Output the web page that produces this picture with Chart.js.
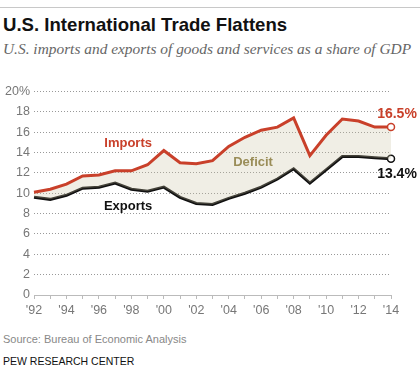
<!DOCTYPE html>
<html>
<head>
<meta charset="utf-8">
<script src="https://cdn.jsdelivr.net/npm/chart.js@4/dist/chart.umd.min.js"></script>
<style>
  body { margin: 0; background: #fff; width: 420px; height: 380px; position: relative; overflow: hidden; }
  .rule { position: absolute; left: 0; top: 7px; width: 420px; height: 1px; background: #c8c8c8; }
  .title { position: absolute; left: 3px; top: 14px; font: bold 18.6px "Liberation Sans Narrow", "Liberation Sans", sans-serif; color: #111; white-space: nowrap; }
  .sub { position: absolute; left: 3px; top: 40px; font: italic 15.4px "Liberation Serif", serif; color: #666; white-space: nowrap; }
  .source { position: absolute; left: 3px; top: 333px; font: 11px "Liberation Sans", sans-serif; color: #888; white-space: nowrap; }
  .pew { position: absolute; left: 3px; top: 355px; font: 10.5px "Liberation Sans", sans-serif; color: #111; white-space: nowrap; }
  #wrap { position: absolute; left: 0; top: 80px; width: 420px; height: 240px; }
</style>
</head>
<body>
<div class="rule"></div>
<div class="title">U.S. International Trade Flattens</div>
<div class="sub">U.S. imports and exports of goods and services as a share of GDP</div>
<div id="wrap"><canvas id="myChart"></canvas></div>
<div class="source">Source: Bureau of Economic Analysis</div>
<div class="pew">PEW RESEARCH CENTER</div>
<script>
const years = ["'92","'93","'94","'95","'96","'97","'98","'99","'00","'01","'02","'03",
  "'04","'05","'06","'07","'08","'09","'10","'11","'12","'13","'14"];
const imports = [10.1, 10.4, 10.9, 11.7, 11.8, 12.2, 12.2, 12.8, 14.2, 13.0, 12.9, 13.2,
  14.6, 15.5, 16.2, 16.5, 17.4, 13.7, 15.7, 17.3, 17.1, 16.5, 16.5];
const exports = [9.6, 9.4, 9.8, 10.5, 10.6, 11.0, 10.4, 10.2, 10.6, 9.6, 9.0, 8.9,
  9.5, 10.0, 10.6, 11.4, 12.4, 11.0, 12.3, 13.6, 13.6, 13.5, 13.4];
const yTicks = [0, 2, 4, 6, 8, 10, 12, 14, 16, 18, 20];

const red = "#c9402a";
const last = years.length - 1;

// labels drawn on the plot, placed in data units
const notes = {
  id: 'notes',
  afterDatasetsDraw(chart) {
    const c = chart.ctx;
    const x = chart.scales.x, y = chart.scales.y;
    c.save();
    c.textAlign = 'center';
    c.textBaseline = 'middle';
    c.font = 'bold 13px "Liberation Sans Narrow", "Liberation Sans", sans-serif';
    c.fillStyle = red;
    c.fillText('Imports', x.getPixelForValue(5.8), y.getPixelForValue(14.9));
    c.fillStyle = '#111';
    c.fillText('Exports', x.getPixelForValue(5.8), y.getPixelForValue(8.7));
    c.fillStyle = '#9a8d58';
    c.fillText('Deficit', x.getPixelForValue(13.5), y.getPixelForValue(13.0));
    c.font = 'bold 14px "Liberation Sans Narrow", "Liberation Sans", sans-serif';
    c.fillStyle = red;
    c.fillText(imports[last].toFixed(1) + '%', x.getPixelForValue(last) + 6, y.getPixelForValue(imports[last] + 1.3));
    c.fillStyle = '#111';
    c.fillText(exports[last].toFixed(1) + '%', x.getPixelForValue(last) + 6, y.getPixelForValue(exports[last] - 1.5));
    c.restore();
  }
};

const endPoint = (ctx) => ctx.dataIndex === last ? 3.5 : 0;

new Chart(document.getElementById('myChart'), {
  type: 'line',
  data: {
    labels: years,
    datasets: [
      {
        label: 'Imports',
        data: imports,
        borderColor: red,
        borderWidth: 3,
        backgroundColor: 'rgba(200,195,160,0.28)',
        fill: '+1',
        tension: 0,
        pointRadius: endPoint,
        pointBackgroundColor: '#fff',
        pointBorderColor: red,
        pointBorderWidth: 1.5
      },
      {
        label: 'Exports',
        data: exports,
        borderColor: '#111',
        borderWidth: 3,
        fill: false,
        tension: 0,
        pointRadius: endPoint,
        pointBackgroundColor: '#fff',
        pointBorderColor: '#111',
        pointBorderWidth: 1.5
      }
    ]
  },
  options: {
    responsive: true,
    maintainAspectRatio: false,
    animation: false,
    layout: { padding: { left: 0, right: 29, top: 11, bottom: 0 } },
    plugins: { legend: { display: false }, tooltip: { enabled: false } },
    scales: {
      x: {
        grid: { display: true, drawOnChartArea: false, drawTicks: true, tickLength: 4, color: '#bbb' },
        border: { display: true, color: '#bbb' },
        ticks: {
          autoSkip: false, maxRotation: 0, padding: 4, color: '#777',
          font: { family: '"Liberation Sans", sans-serif', size: 12.5 },
          callback: (v, i) => i % 2 === 0 ? years[i] : ''
        },
        afterFit: (s) => { s.height = 25; }
      },
      y: {
        min: 0, max: 20,
        afterBuildTicks: (s) => { s.ticks = yTicks.map(v => ({ value: v })); },
        grid: { color: (ctx) => ctx.tick && ctx.tick.value === 0 ? 'rgba(0,0,0,0)' : '#999', drawTicks: false },
        border: { display: false, dash: [1, 2] },
        ticks: {
          padding: 4, color: '#777',
          font: { family: '"Liberation Sans", sans-serif', size: 12.5 },
          callback: (v) => v === 20 ? '20%' : v
        },
        afterFit: (s) => { s.width = 34; }
      }
    }
  },
  plugins: [notes]
});
</script>
</body>
</html>
